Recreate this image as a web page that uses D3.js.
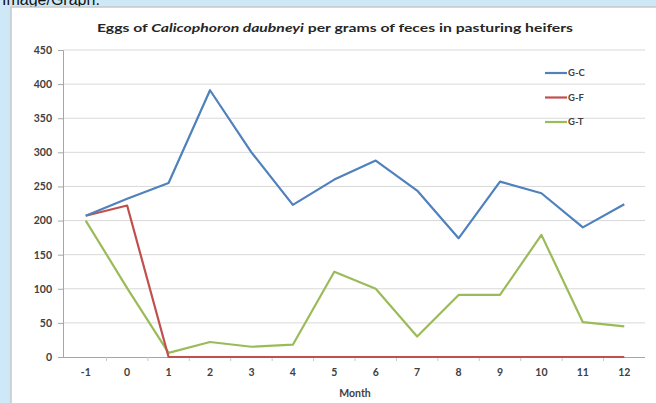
<!DOCTYPE html>
<html><head><meta charset="utf-8">
<script src="https://cdn.jsdelivr.net/npm/d3@7"></script>
<style>
html,body{margin:0;padding:0;background:#cfe8f8;}
svg{display:block;}
</style></head>
<body>
<svg id="c" width="656" height="403"></svg>
<script>
const months = ["-1","0","1","2","3","4","5","6","7","8","9","10","11","12"];
const gC = [207,232,255,391,300,223,260,288,244,174,257,240,190,224];
const gF = [207,222,0,0,0,0,0,0,0,0,0,0,0,0];
const gT = [200,101,6,22,15,18,125,100,30,91,91,179,51,45];
const seriesNames = ["G-C","G-F","G-T"];
const seriesColors = ["#4f81bd","#c0504d","#9bbb59"];
const yTicks = [0,50,100,150,200,250,300,350,400,450];

const series = [gC,gF,gT].map((v,i)=>({name:seriesNames[i],color:seriesColors[i],values:v}));
const svg = d3.select("#c");
const W=656,H=403;

// background
svg.append("rect").attr("x",0).attr("y",0).attr("width",W).attr("height",H).attr("fill","#cfe8f8");
svg.append("text").attr("x",2).attr("y",5).attr("font-family","Liberation Sans, Arial, sans-serif")
  .attr("font-size",16).attr("fill","#111").text("Image/Graph:");
svg.append("rect").attr("x",11).attr("y",7).attr("width",W).attr("height",H).attr("fill","#fff")
  .attr("stroke","#c8c8c8").attr("stroke-width",1.5);

const x0=65, x1=645;
const x = d3.scaleBand().domain(months).range([x0,x1]);
const y = d3.scaleLinear().domain([0,450]).range([357,50]);

const font = "Lato, 'Open Sans', sans-serif";

// gridlines
svg.append("g").selectAll("line").data(yTicks.filter(d=>d>0)).join("line")
  .attr("x1",x0-2).attr("x2",x1).attr("y1",d=>y(d)).attr("y2",d=>y(d))
  .attr("stroke","#d9d9d9").attr("stroke-width",1);

// y axis
const yAxis = svg.append("g").attr("transform",`translate(${x0-2},0)`)
  .call(d3.axisLeft(y).tickValues(yTicks).tickSize(5).tickPadding(6));
yAxis.select(".domain").attr("stroke","#a6a6a6");
yAxis.selectAll(".tick line").attr("stroke","#a6a6a6");
yAxis.selectAll("text").attr("font-family",font).attr("font-weight","bold").attr("font-size",10.5).attr("fill","#404040");

// x axis
const xAxis = svg.append("g").attr("transform",`translate(0,${y(0)})`)
  .call(d3.axisBottom(x).tickSize(0).tickPadding(12));
xAxis.select(".domain").attr("stroke","#a6a6a6").attr("d",`M${x0-2},0.5H${x1}`);
xAxis.selectAll("text").attr("font-family",font).attr("font-weight","bold").attr("font-size",10.5).attr("fill","#404040");
svg.append("g").selectAll("line").data(months.slice(1)).join("line")
  .attr("x1",d=>x(d)).attr("x2",d=>x(d)).attr("y1",y(0)).attr("y2",y(0)+4)
  .attr("stroke","#c8c8c8");

svg.append("text").attr("x",355).attr("y",397).attr("text-anchor","middle")
  .attr("font-family",font).attr("font-weight","bold").attr("font-size",10.5).attr("fill","#404040").text("Month");

// title
const t = svg.append("text").attr("x",335).attr("y",32).attr("text-anchor","middle")
  .attr("font-family",font).attr("font-weight","bold").attr("font-size",12).attr("fill","#262626")
  .attr("textLength",476).attr("lengthAdjust","spacingAndGlyphs");
t.append("tspan").text("Eggs of ");
t.append("tspan").attr("font-style","italic").text("Calicophoron daubneyi");
t.append("tspan").text(" per grams of feces in pasturing heifers");

// lines
const line = d3.line().x((d,i)=>x(months[i])+x.bandwidth()/2).y(d=>y(d));
svg.append("g").selectAll("path").data([series[2],series[1],series[0]]).join("path")
  .attr("d",d=>line(d.values)).attr("fill","none").attr("stroke",d=>d.color)
  .attr("stroke-width",2.2).attr("stroke-linejoin","round");

// legend
const lg = svg.append("g").selectAll("g").data(series).join("g")
  .attr("transform",(d,i)=>`translate(545,${73+i*24.5})`);
lg.append("line").attr("x1",0).attr("x2",22).attr("stroke",d=>d.color).attr("stroke-width",2.2);
lg.append("text").attr("x",23).attr("dy","0.35em").attr("font-family",font).attr("font-weight","bold")
  .attr("font-size",9.5).attr("fill","#404040").text(d=>d.name);
</script>
</body></html>
